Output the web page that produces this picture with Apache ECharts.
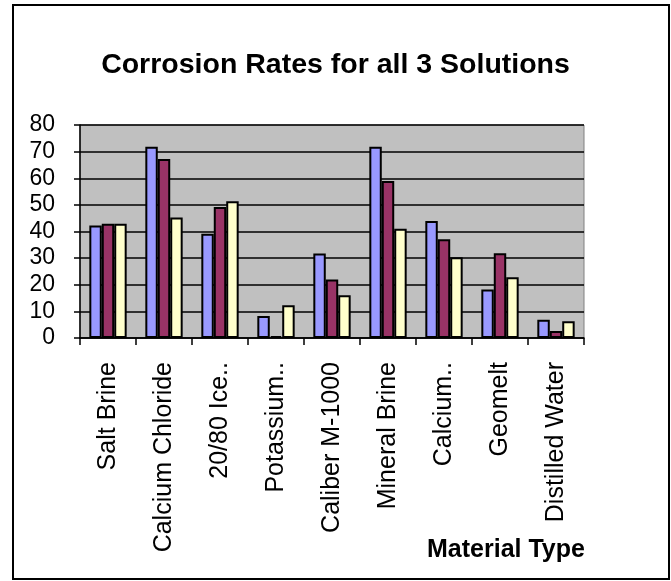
<!DOCTYPE html>
<html>
<head>
<meta charset="utf-8">
<script src="https://cdn.jsdelivr.net/npm/echarts@6/dist/echarts.min.js"></script>
<style>
  html, body { margin: 0; padding: 0; background: #fff; }
  #chart { width: 671px; height: 581px; }
</style>
</head>
<body>
<div id="chart"></div>
<script>
// categories along the x axis (as Excel truncated them)
var materials = ['Salt Brine', 'Calcium Chloride', '20/80 Ice..', 'Potassium..', 'Caliber M-1000',
  'Mineral Brine', 'Calcium..', 'Geomelt', 'Distilled Water']
var solutionNames = ['Solution 1', 'Solution 2', 'Solution 3']
// corrosion rates
var solution1 = [42.3, 71.8, 39.2, 8.3, 31.7, 71.8, 43.9, 18.2, 6.9]
var solution2 = [42.9, 67.2, 49.2, 0.7, 22, 59, 37.1, 31.8, 2.6]
var solution3 = [42.9, 45.3, 51.4, 12.3, 16.1, 41, 30.3, 22.8, 6.3]
var yTicks = [0, 10, 20, 30, 40, 50, 60, 70, 80]

var colors = ['#9999FF', '#993366', '#FFFFCC']
var font = 'Liberation Sans, Arial, sans-serif'

var chart = echarts.init(document.getElementById('chart'))
var values = [solution1, solution2, solution3]
chart.setOption({
  animation: false,
  title: [
    {
      text: 'Corrosion Rates for all 3 Solutions',
      left: 'center',
      top: 46,
      textStyle: { fontFamily: font, fontSize: 28.5, fontWeight: 'bold', color: '#000' }
    },
    {
      text: 'Material Type',
      left: 422,
      top: 533,
      textStyle: { fontFamily: font, fontSize: 25, fontWeight: 'bold', color: '#000' }
    }
  ],
  graphic: [
    {
      // outer chart frame
      type: 'rect',
      shape: { x: 13, y: 5, width: 656, height: 574 },
      style: { fill: 'none', stroke: '#000', lineWidth: 2 },
      silent: true
    }
  ],
  grid: {
    left: 80,
    right: 87,
    top: 125,
    bottom: 243,
    show: true,
    backgroundColor: '#C0C0C0',
    borderColor: '#808080',
    borderWidth: 1
  },
  xAxis: {
    type: 'category',
    data: materials,
    axisLine: { lineStyle: { color: '#000', width: 1.5 } },
    axisTick: { show: true, length: 7, inside: false, lineStyle: { color: '#000', width: 1.5 } },
    axisLabel: {
      rotate: 90,
      margin: 24,
      interval: 0,
      fontFamily: font,
      fontSize: 25,
      color: '#000'
    }
  },
  yAxis: {
    type: 'value',
    min: yTicks[0],
    max: yTicks[yTicks.length - 1],
    interval: 10,
    axisLine: { show: true, lineStyle: { color: '#000', width: 1.5 } },
    axisTick: { show: true, length: 6, lineStyle: { color: '#000', width: 1.5 } },
    axisLabel: { margin: 25, fontFamily: font, fontSize: 23, color: '#000' },
    splitLine: { show: true, lineStyle: { color: '#000', width: 1.5 } }
  },
  series: values.map(function (v, i) {
    return {
      name: solutionNames[i],
      type: 'bar',
      data: v,
      barGap: '0%',
      barCategoryGap: '33.3%',
      itemStyle: { color: colors[i], borderColor: '#000', borderWidth: 2 }
    }
  })
})
</script>
</body>
</html>
